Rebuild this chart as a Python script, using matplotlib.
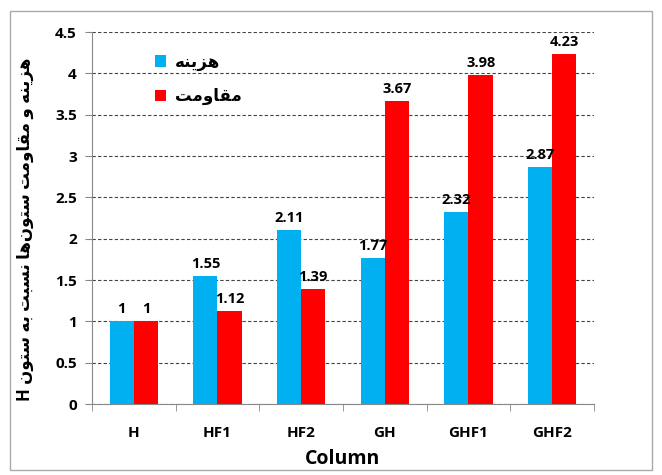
import matplotlib.pyplot as plt
import numpy as np
from matplotlib.patches import Rectangle
from matplotlib.ticker import FuncFormatter

# داده‌ها
columns = ['H', 'HF1', 'HF2', 'GH', 'GHF1', 'GHF2']
cost = [1, 1.55, 2.11, 1.77, 2.32, 2.87]
resistance = [1, 1.12, 1.39, 3.67, 3.98, 4.23]
series_names = ['هزینه', 'مقاومت']
ylabel_fa = 'هزینه و مقاومت ستون‌ها نسبت به ستون'
ylabel_latin = 'H'
xlabel = 'Column'

# فرم‌های نمایشی حروف: (جدا، پایانی، آغازی، میانی)
FORMS = {
    'ا': ('\uFE8D', '\uFE8E', None, None),
    'ب': ('\uFE8F', '\uFE90', '\uFE91', '\uFE92'),
    'ت': ('\uFE95', '\uFE96', '\uFE97', '\uFE98'),
    'ز': ('\uFEAF', '\uFEB0', None, None),
    'س': ('\uFEB1', '\uFEB2', '\uFEB3', '\uFEB4'),
    'ف': ('\uFED1', '\uFED2', '\uFED3', '\uFED4'),
    'ق': ('\uFED5', '\uFED6', '\uFED7', '\uFED8'),
    'م': ('\uFEE1', '\uFEE2', '\uFEE3', '\uFEE4'),
    'ن': ('\uFEE5', '\uFEE6', '\uFEE7', '\uFEE8'),
    'ه': ('\uFEE9', '\uFEEA', '\uFEEB', '\uFEEC'),
    'و': ('\uFEED', '\uFEEE', None, None),
    'ی': ('\uFBFC', '\uFBFD', '\uFBFE', '\uFBFF'),
}


def shape(text):
    # اتصال حروف و برگرداندن ترتیب برای نمایش چپ به راست
    out = []
    for i, ch in enumerate(text):
        if ch not in FORMS:
            out.append(ch if ch != '\u200c' else '')
            continue
        prev = text[i - 1] if i > 0 else ''
        nxt = text[i + 1] if i + 1 < len(text) else ''
        join_prev = prev in FORMS and FORMS[prev][2] is not None
        join_next = nxt in FORMS and FORMS[ch][2] is not None
        iso, fin, ini, med = FORMS[ch]
        if join_prev and join_next:
            out.append(med)
        elif join_prev:
            out.append(fin)
        elif join_next:
            out.append(ini)
        else:
            out.append(iso)
    return ''.join(out)[::-1]


FAM = ['Open Sans', 'DejaVu Sans']
plt.rcParams['font.family'] = FAM
plt.rcParams['font.weight'] = 'bold'

fig = plt.figure(figsize=(6.62, 4.75), dpi=100)
ax = fig.add_axes([92 / 662, 1 - 404 / 475, (594 - 92) / 662, (404 - 32) / 475])

x = np.arange(len(columns))
w = 0.29
b1 = ax.bar(x - w / 2, cost, w, color='#00B0F0', label=shape(series_names[0]), zorder=3)
b2 = ax.bar(x + w / 2, resistance, w, color='#FF0000', label=shape(series_names[1]), zorder=3)

for bars, vals in [(b1, cost), (b2, resistance)]:
    for r, v in zip(bars, vals):
        ax.text(r.get_x() + r.get_width() / 2, v + 0.06, '%g' % v,
                ha='center', va='bottom', fontsize=10.5, fontweight='bold')

ax.set_xlim(-0.5, len(columns) - 0.5)
ax.set_ylim(0, 4.5)
ax.set_yticks(np.arange(0, 4.51, 0.5))
ax.yaxis.set_major_formatter(FuncFormatter(lambda v, p: '%g' % v))
ax.set_xticks(x)
ax.set_xticklabels(columns)
ax.set_xticks(np.arange(-0.5, len(columns)), minor=True)
ax.tick_params(axis='x', which='major', length=0, pad=16, labelsize=11)
ax.tick_params(axis='x', which='minor', length=5, color='#888888')
ax.tick_params(axis='y', length=5, color='#888888', labelsize=11, pad=6)
for lbl in ax.get_xticklabels() + ax.get_yticklabels():
    lbl.set_fontweight('bold')

ax.grid(axis='y', linestyle=(0, (3, 2)), color='#444444', linewidth=0.8, zorder=0)
for s in ['top', 'right']:
    ax.spines[s].set_visible(False)
ax.spines['left'].set_color('#888888')
ax.spines['bottom'].set_color('#888888')

ax.set_xlabel(xlabel, fontsize=14, fontweight='bold', labelpad=6)
ax.set_ylabel(ylabel_latin + ' ' + shape(ylabel_fa), fontsize=12,
              fontweight='bold', labelpad=8)
ax.yaxis.set_label_coords(-0.115, 0.47)

leg = ax.legend(loc='upper left', bbox_to_anchor=(0.095, 0.985), frameon=False,
                handlelength=0.7, handleheight=0.7,
                handletextpad=0.5, labelspacing=1.0,
                prop={'weight': 'bold', 'size': 12})

fig.patches.append(Rectangle((10 / 662, 5 / 475), 642 / 662, 459 / 475,
                             transform=fig.transFigure, fill=False,
                             edgecolor='#aaaaaa', linewidth=1))

fig.savefig('out.png', dpi=100)
